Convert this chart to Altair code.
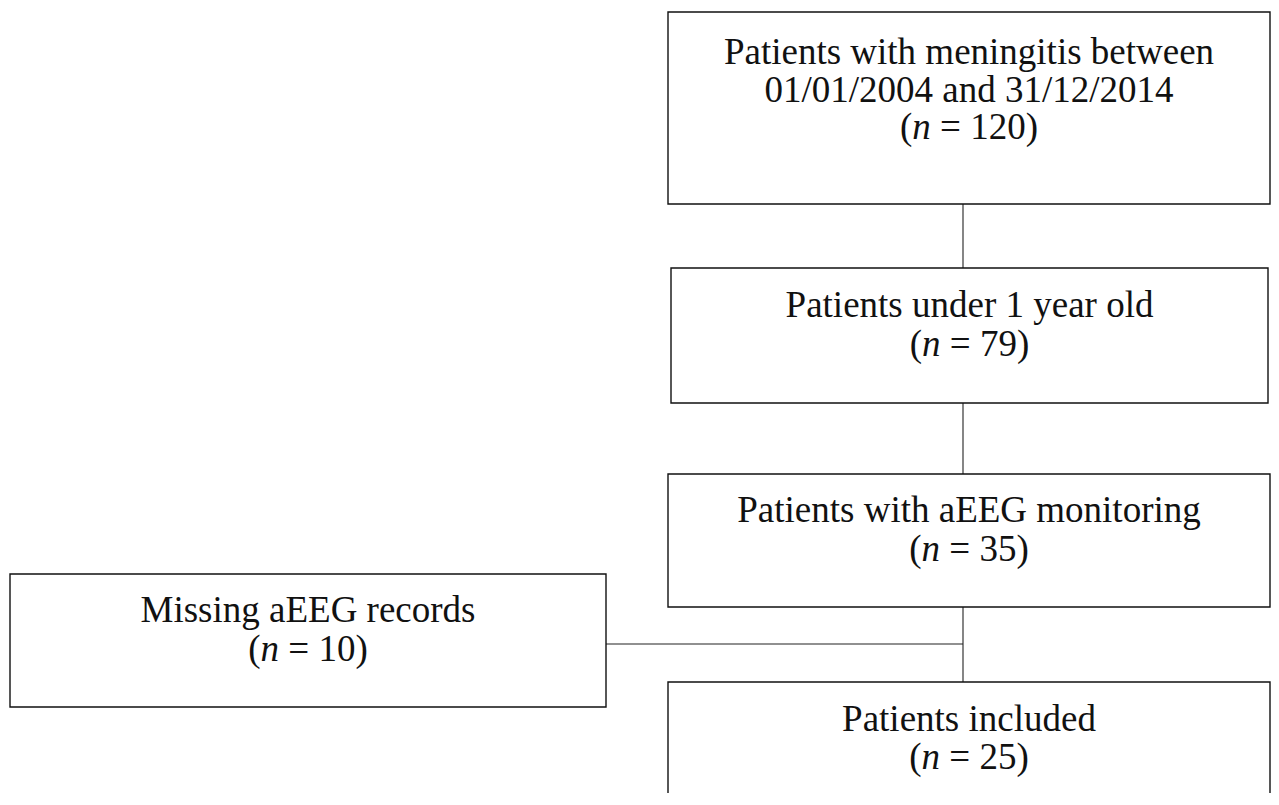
import altair as alt
import pandas as pd

FONT = "Liberation Serif"
FS = 37

# ---- content ----
labels = [
    ["Patients with meningitis between", "01/01/2004 and 31/12/2014"],
    ["Patients under 1 year old"],
    ["Patients with aEEG monitoring"],
    ["Missing aEEG records"],
    ["Patients included"],
]
n_values = [120, 79, 35, 10, 25]

# ---- layout (pixel positions in page coordinates) ----
box_left = [668, 671, 668, 10, 668]
box_right = [1270, 1268, 1270, 606, 1270]
box_top = [12, 268, 474, 574, 682]
box_bottom = [204, 403, 607, 707, 840]
label_baselines = [[64, 102], [317], [522], [622], [731]]
count_baselines = [139, 356, 561, 661, 769]

conn_x = [963, 963, 963, 606]
conn_x2 = [963, 963, 963, 963]
conn_y = [204, 403, 607, 644]
conn_y2 = [268, 474, 682, 644]

# Times/Liberation Serif advance widths (1/1000 em)
CW = {"(": 333, ")": 333, " ": 250, "=": 564}
for d in "0123456789":
    CW[d] = 500
N_ITALIC_W = 500


def tw(s):
    return sum(CW.get(c, 500) for c in s)


boxes = pd.DataFrame({"x": box_left, "x2": box_right, "y": box_top, "y2": box_bottom})
conns = pd.DataFrame({"x": conn_x, "x2": conn_x2, "y": conn_y, "y2": conn_y2})

plain_rows = []
italic_rows = []
label_rows = []
for i, lines in enumerate(labels):
    cx = (box_left[i] + box_right[i]) / 2
    for line, yb in zip(lines, label_baselines[i]):
        label_rows.append({"x": cx, "y": yb, "t": line})
    rest = "= %d)" % n_values[i]
    gap = CW[" "]
    total = CW["("] + N_ITALIC_W + gap + tw(rest)
    start = cx - total * FS / 2000
    yb = count_baselines[i]
    plain_rows.append({"x": start, "y": yb, "t": "("})
    italic_rows.append({"x": start + CW["("] * FS / 1000, "y": yb, "t": "n"})
    plain_rows.append({"x": start + (CW["("] + N_ITALIC_W + gap) * FS / 1000, "y": yb, "t": rest})

W, H = 1263, 785
XD = [8, 8 + W]
YD = [8, 8 + H]


def xs():
    return alt.Scale(domain=XD, nice=False, zero=False)


def ys():
    return alt.Scale(domain=YD, nice=False, zero=False, reverse=True)


rects = alt.Chart(boxes).mark_rect(fill="white", stroke="#111111", strokeWidth=1.4, clip=True).encode(
    x=alt.X("x:Q", scale=xs(), axis=None),
    x2="x2:Q",
    y=alt.Y("y:Q", scale=ys(), axis=None),
    y2="y2:Q",
)

rules = alt.Chart(conns).mark_rule(color="#222222", strokeWidth=1.1).encode(
    x=alt.X("x:Q", scale=xs(), axis=None),
    x2="x2:Q",
    y=alt.Y("y:Q", scale=ys(), axis=None),
    y2="y2:Q",
)

label_text = alt.Chart(pd.DataFrame(label_rows)).mark_text(
    align="center", baseline="alphabetic", font=FONT, fontSize=FS, color="#111111"
).encode(
    x=alt.X("x:Q", scale=xs(), axis=None),
    y=alt.Y("y:Q", scale=ys(), axis=None),
    text="t:N",
)

plain_text = alt.Chart(pd.DataFrame(plain_rows)).mark_text(
    align="left", baseline="alphabetic", font=FONT, fontSize=FS, color="#111111"
).encode(
    x=alt.X("x:Q", scale=xs(), axis=None),
    y=alt.Y("y:Q", scale=ys(), axis=None),
    text="t:N",
)

italic_text = alt.Chart(pd.DataFrame(italic_rows)).mark_text(
    align="left", baseline="alphabetic", font=FONT, fontSize=FS, fontStyle="italic", color="#111111"
).encode(
    x=alt.X("x:Q", scale=xs(), axis=None),
    y=alt.Y("y:Q", scale=ys(), axis=None),
    text="t:N",
)

chart = alt.layer(rules, rects, label_text, plain_text, italic_text).properties(
    width=W, height=H, autosize=alt.AutoSizeParams(type="none"), padding=0
).configure_view(stroke=None)

chart.save("out.html", embed_options={"renderer": "svg", "actions": False})
